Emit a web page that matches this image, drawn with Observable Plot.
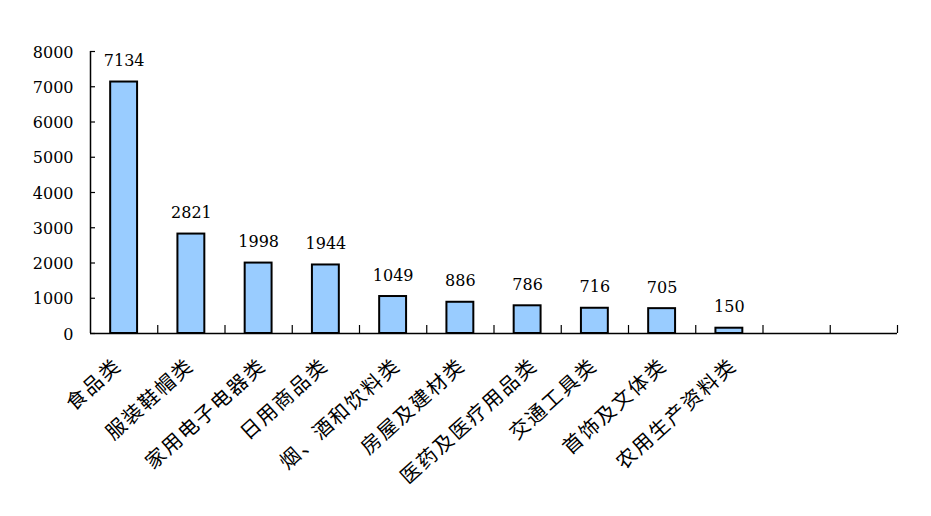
<!DOCTYPE html>
<html>
<head>
<meta charset="utf-8">
<script src="https://cdn.jsdelivr.net/npm/d3@7"></script>
<script src="https://cdn.jsdelivr.net/npm/@observablehq/plot@0.6"></script>
<style>
  html, body { margin: 0; padding: 0; background: #fff; }
  #chart svg { display: block; }
  #chart svg .xlab text { letter-spacing: 2px; }
</style>
</head>
<body>
<div id="chart"></div>
<script>
const categories = ["食品类", "服装鞋帽类", "家用电子电器类", "日用商品类", "烟、酒和饮料类", "房屋及建材类", "医药及医疗用品类", "交通工具类", "首饰及文体类", "农用生产资料类"];
const values = [7134, 2821, 1998, 1944, 1049, 886, 786, 716, 705, 150];
const slotCount = 12;
const yTicks = [0, 1000, 2000, 3000, 4000, 5000, 6000, 7000, 8000];

const data = categories.map((c, i) => ({category: c, i, value: values[i]}));

const W = 931, H = 516, mL = 90, mR = 34, mT = 51, mB = 183;
const frameW = W - mL - mR, frameH = H - mT - mB;

// Category labels: rotated, end-anchored near each slot centre (shift grows slightly with label length, as in the original)
const labelMarks = data.map(d => Plot.text([d], {
  x: e => e.i + 0.5,
  frameAnchor: "bottom",
  text: "category",
  rotate: -42,
  textAnchor: "end",
  lineAnchor: "middle",
  dy: 29,
  dx: 2.5 * d.category.length - 13,
  fontSize: 20,
  fontFamily: "Noto Sans CJK SC",
  fill: "#000",
  className: "xlab"
}));

const chart = Plot.plot({
  width: W,
  height: H,
  marginLeft: mL,
  marginRight: mR,
  marginTop: mT,
  marginBottom: mB,
  style: {background: "#fff", color: "#000"},
  x: {type: "linear", domain: [0, slotCount], axis: null},
  y: {domain: [0, 8000]},
  marks: [
    Plot.rectY(data, {
      x1: d => d.i + 0.3,
      x2: d => d.i + 0.7,
      y: "value",
      fill: "#99CCFF",
      stroke: "#000",
      strokeWidth: 2
    }),
    Plot.ruleY([0], {stroke: "#000", strokeWidth: 1.5}),
    Plot.ruleX([0], {stroke: "#000", strokeWidth: 1.5}),
    Plot.tickX(d3.range(1, slotCount + 1), {x: d => d, insetTop: frameH - 8, stroke: "#000", strokeWidth: 1.2}),
    Plot.tickY(yTicks, {y: d => d, insetRight: frameW - 5, stroke: "#000", strokeWidth: 1.2}),
    Plot.axisY({
      ticks: yTicks,
      tickSize: 0,
      tickPadding: 17,
      tickFormat: d => String(d),
      fontSize: 16,
      fontFamily: "DejaVu Serif",
      dy: 1,
      label: null
    }),
    ...labelMarks,
    Plot.text(data, {
      x: d => d.i + 0.5,
      y: "value",
      text: d => String(d.value),
      dy: -16,
      lineAnchor: "bottom",
      fontSize: 16,
      fontFamily: "DejaVu Serif",
      fill: "#000"
    })
  ]
});
document.getElementById("chart").appendChild(chart);
</script>
</body>
</html>
